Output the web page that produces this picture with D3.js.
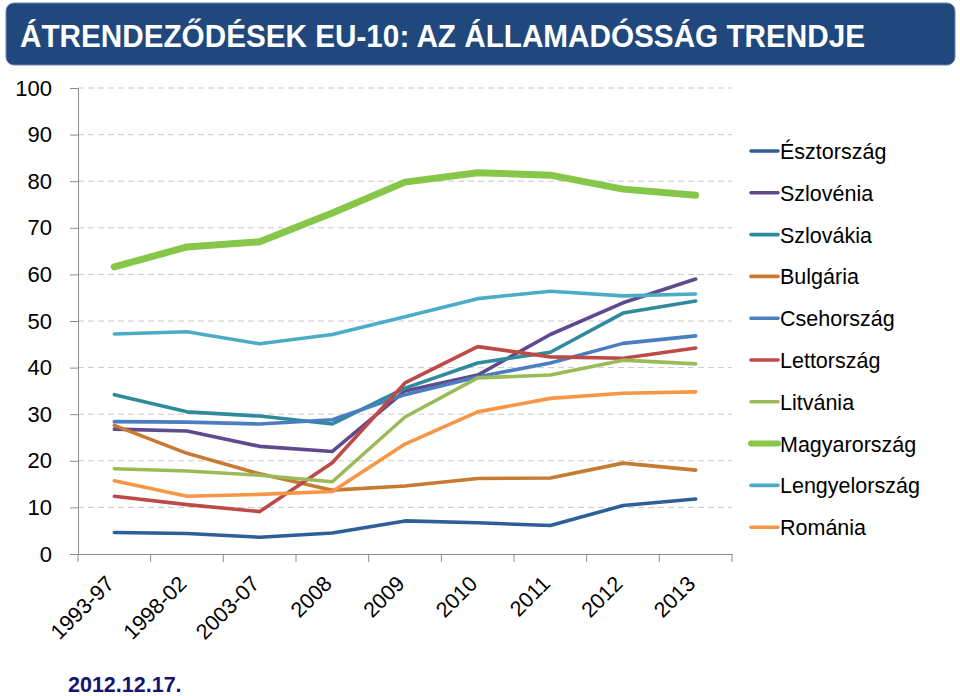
<!DOCTYPE html>
<html><head><meta charset="utf-8">
<script src="https://cdn.jsdelivr.net/npm/d3@7"></script>
<style>body{margin:0;background:#fff}svg{display:block}</style>
</head><body>
<svg id="c" width="960" height="696"></svg>
<script>
const categories = ["1993-97","1998-02","2003-07","2008","2009","2010","2011","2012","2013"];
const yTicks = [0,10,20,30,40,50,60,70,80,90,100];
const seriesNames = ["Észtország","Szlovénia","Szlovákia","Bulgária","Csehország","Lettország","Litvánia","Magyarország","Lengyelország","Románia"];
const seriesColors = ["#2F5F98","#604A8E","#2E8B9C","#C77A32","#4A7EC1","#BE4A47","#9BBB59","#86C74A","#4BACC6","#F79646"];
const esztorszag   = [4.6,4.4,3.6,4.5,7.1,6.7,6.1,10.4,11.8];
const szlovenia    = [26.8,26.4,23.1,22.0,35.0,38.4,47.1,53.9,59.0];
const szlovakia    = [34.2,30.5,29.6,27.9,35.6,41.0,43.3,51.7,54.3];
const bulgaria     = [27.6,21.6,17.2,13.7,14.6,16.2,16.3,19.5,18.0];
const csehorszag   = [28.4,28.3,27.9,28.8,34.2,38.0,41.0,45.2,46.8];
const lettorszag   = [12.4,10.6,9.1,19.6,36.7,44.5,42.3,42.0,44.2];
const litvania     = [18.3,17.8,16.9,15.5,29.4,37.8,38.4,41.6,40.8];
const magyarorszag = [61.6,65.9,67.0,73.2,79.8,81.8,81.3,78.3,77.0];
const lengyelorszag= [47.2,47.7,45.1,47.1,50.9,54.8,56.4,55.4,55.8];
const romania      = [15.7,12.4,12.8,13.4,23.6,30.5,33.4,34.5,34.8];
const seriesValues = [esztorszag,szlovenia,szlovakia,bulgaria,csehorszag,lettorszag,litvania,magyarorszag,lengyelorszag,romania];
const titleText = "ÁTRENDEZŐDÉSEK EU-10: AZ ÁLLAMADÓSSÁG TRENDJE";
const dateText = "2012.12.17.";

const svg = d3.select("#c");
const L = 78, R = 732, T = 88, B = 554;
const x = d3.scaleBand().domain(categories).range([L, R]);
const y = d3.scaleLinear().domain([0, 100]).range([B, T]);

// title box
svg.append("rect").attr("x",6).attr("y",3).attr("width",949).attr("height",62)
  .attr("rx",8).attr("fill","#21487C").attr("stroke","#6d86a8").attr("stroke-width",1);
svg.append("text").attr("x",20).attr("y",47).attr("fill","#fff")
  .attr("font-family","'Liberation Sans Narrow','Arial Narrow','Liberation Sans',sans-serif")
  .attr("font-weight","bold").attr("font-size",32)
  .attr("textLength",845).attr("lengthAdjust","spacingAndGlyphs").text(titleText);

// grid
svg.append("g").selectAll("line").data(yTicks.filter(d=>d>0)).join("line")
  .attr("x1",L).attr("x2",R).attr("y1",d=>y(d)).attr("y2",d=>y(d))
  .attr("stroke","#c9c9c9").attr("stroke-width",1).attr("stroke-dasharray","6,4");

// y axis
const ya = svg.append("g").attr("transform",`translate(${L},0)`)
  .call(d3.axisLeft(y).tickValues(yTicks).tickSize(8).tickPadding(18));
ya.select(".domain").attr("stroke","#8c8c8c");
ya.selectAll(".tick line").attr("stroke","#8c8c8c");
ya.selectAll("text").attr("font-family","'Liberation Sans',Arial,sans-serif").attr("font-size",22).attr("fill","#000");

// x axis
const xa = svg.append("g").attr("transform",`translate(0,${B})`)
  .call(d3.axisBottom(x).tickSize(0).tickFormat(""));
xa.select(".domain").attr("stroke","#8c8c8c");
xa.selectAll(".tick").remove();
const bounds = categories.map((c,i)=>x(c)).concat([R]);
svg.append("g").selectAll("line").data(bounds).join("line")
  .attr("x1",d=>d).attr("x2",d=>d).attr("y1",B).attr("y2",B+8).attr("stroke","#8c8c8c");
svg.append("g").selectAll("text").data(categories).join("text")
  .attr("transform",d=>`translate(${x(d)+x.bandwidth()/2+1},${B+31}) rotate(-45)`)
  .attr("text-anchor","end").attr("font-family","'Liberation Sans',Arial,sans-serif")
  .attr("font-size",21.5).attr("fill","#000").text(d=>d);

// lines
const line = d3.line().x((d,i)=>x(categories[i])+x.bandwidth()/2).y(d=>y(d));
seriesNames.forEach((n,k)=>{
  svg.append("path").datum(seriesValues[k]).attr("d",line).attr("fill","none")
    .attr("stroke",seriesColors[k]).attr("stroke-width", n==="Magyarország"?7:3.6)
    .attr("stroke-linecap","round").attr("stroke-linejoin","round");
});

// legend
const lg = svg.append("g");
seriesNames.forEach((n,k)=>{
  const yy = 151 + k*41.8;
  lg.append("line").attr("x1",751).attr("x2",778).attr("y1",yy).attr("y2",yy)
    .attr("stroke",seriesColors[k]).attr("stroke-width", n==="Magyarország"?6:3.6).attr("stroke-linecap","round");
  lg.append("text").attr("x",780).attr("y",yy+8).attr("font-family","'Liberation Sans',Arial,sans-serif")
    .attr("font-size",21.5).attr("fill","#000").text(n);
});

svg.append("text").attr("x",68).attr("y",692).attr("fill","#141470")
  .attr("font-family","'Liberation Sans',Arial,sans-serif")
  .attr("font-weight","bold").attr("font-size",21.5).text(dateText);
</script>
</body></html>
